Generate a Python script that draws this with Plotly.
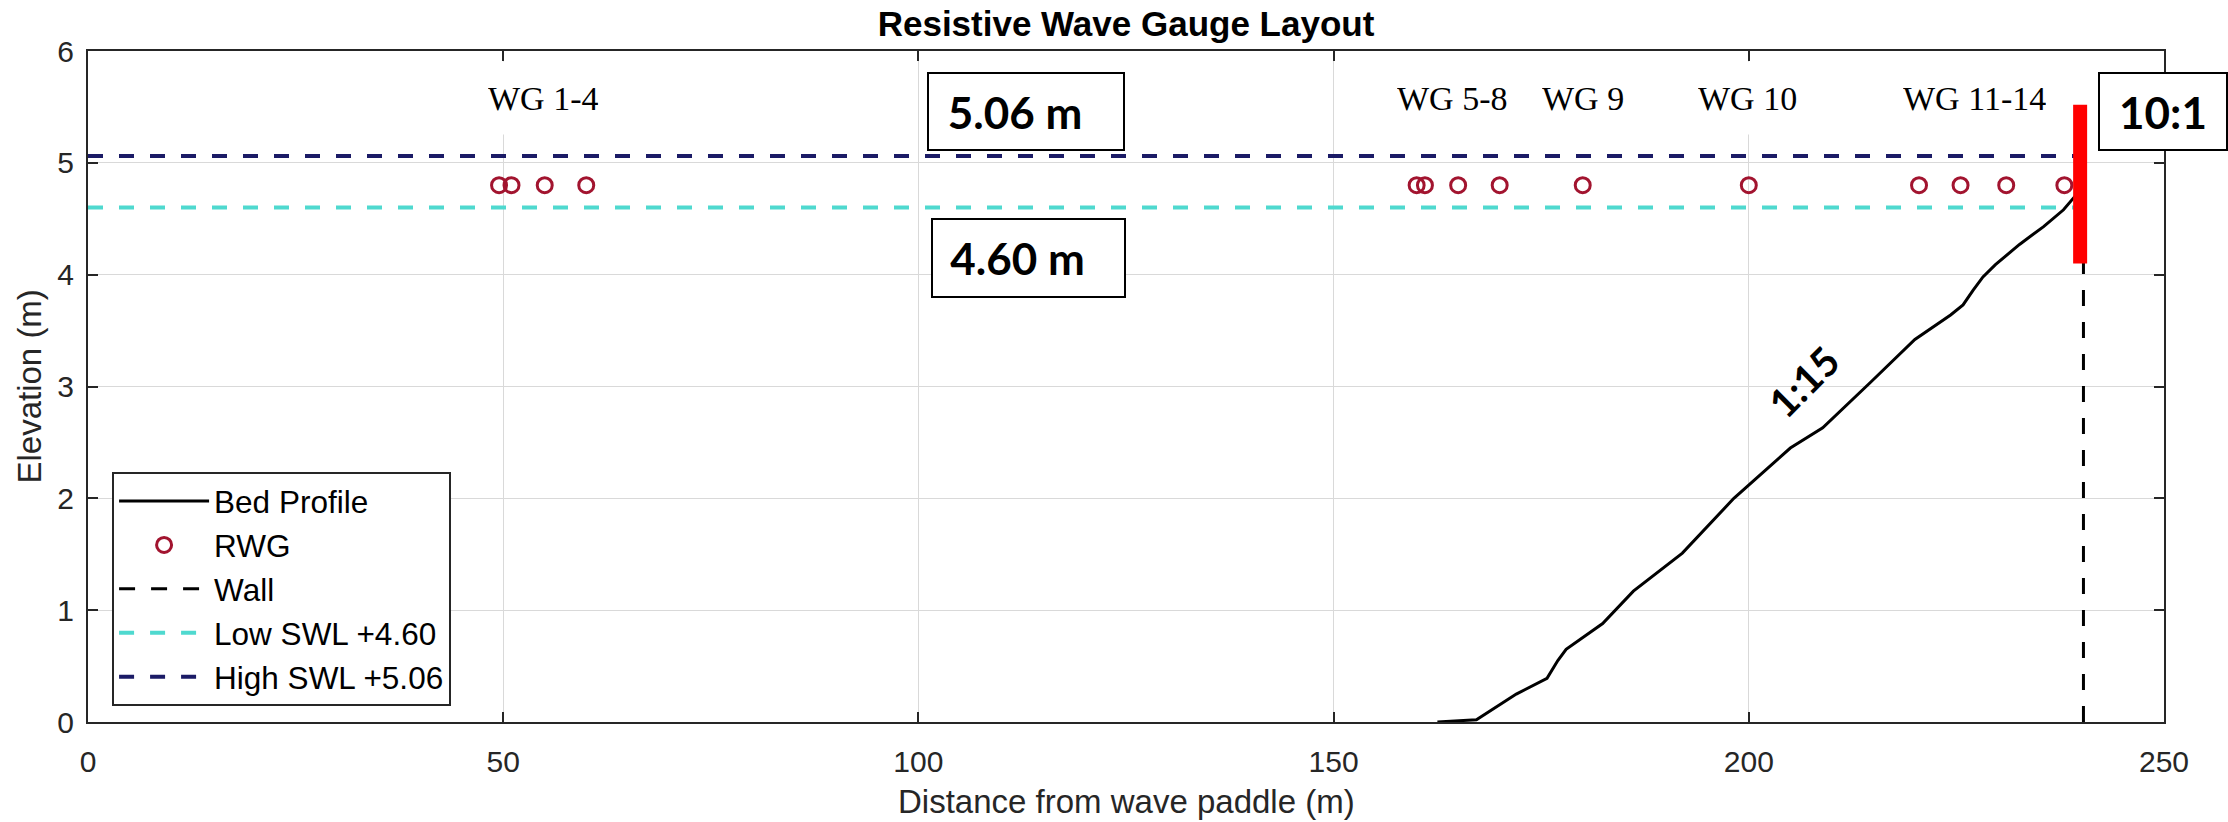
import plotly.graph_objects as go

# Bed profile (distance from paddle, elevation)
bed_x = [162.5, 167.2, 172.0, 175.7, 177.0, 178.0, 182.4, 186.1, 192.0, 198.2, 205.0,
         208.9, 214.7, 220.0, 224.3, 225.8, 227.0, 228.2, 229.7, 232.6, 235.5, 237.9, 239.5]
bed_y = [0.0, 0.02, 0.25, 0.39, 0.55, 0.65, 0.88, 1.17, 1.51, 2.00, 2.45,
         2.63, 3.04, 3.42, 3.64, 3.73, 3.86, 3.98, 4.09, 4.27, 4.43, 4.58, 4.72]

# Resistive wave gauge positions
rwg_x = [49.5, 51, 55, 60, 160, 161, 165, 170, 180, 200, 220.5, 225.5, 231, 238]
rwg_y = [4.8] * len(rwg_x)

# Wall and still water levels
wall_x = [240.3, 240.3]
wall_y = [0.0, 5.3]
swl_x = [0, 240]
low_swl = 4.60
high_swl = 5.06

# Gauge group labels
wg_labels = ["WG 1-4", "WG 5-8", "WG 9", "WG 10", "WG 11-14"]
wg_label_x = [54.8, 164.3, 180.0, 199.8, 227.2]
wg_label_y = 5.58

# Slope annotations
slope_text = "1:15"
wall_slope_text = "10:1"

SANS = "Liberation Sans, Arial, sans-serif"
SERIF = "Liberation Serif, Times New Roman, serif"
BOLD = "Lato, Open Sans, sans-serif"
INK = "#262626"

fig = go.Figure()
fig.add_trace(go.Scatter(x=bed_x, y=bed_y, mode="lines", name="Bed Profile",
                         line=dict(color="black", width=3)))
fig.add_trace(go.Scatter(x=rwg_x, y=rwg_y, mode="markers", name="RWG",
                         marker=dict(symbol="circle-open", size=15, color="#A2142F",
                                     line=dict(width=3, color="#A2142F"))))
fig.add_trace(go.Scatter(x=wall_x, y=wall_y, mode="lines", name="Wall",
                         line=dict(color="black", width=3, dash="16px,16px")))
fig.add_trace(go.Scatter(x=swl_x, y=[low_swl, low_swl], mode="lines",
                         name="Low SWL +%.2f" % low_swl,
                         line=dict(color="#4FD9CF", width=4, dash="15px,16px")))
fig.add_trace(go.Scatter(x=swl_x, y=[high_swl, high_swl], mode="lines",
                         name="High SWL +%.2f" % high_swl,
                         line=dict(color="#1b1b66", width=4, dash="15px,16px")))

# Red wall-face marker
fig.add_shape(type="line", x0=239.9, x1=239.9, y0=4.1, y1=5.52, xref="x", yref="y",
              line=dict(color="#ff0000", width=14), layer="above")

annotations = []
for t, x in zip(wg_labels, wg_label_x):
    annotations.append(dict(x=x, y=wg_label_y, xref="x", yref="y", text=t,
                            showarrow=False, xanchor="center", yanchor="middle",
                            font=dict(family=SERIF, size=34, color="black"),
                            bgcolor="white", height=70))

box_font = dict(family=BOLD, size=44, color="black")
annotations.append(dict(x=112.9, y=5.46, xref="x", yref="y",
                        text="<b>%.2f m</b>\u2002" % high_swl,
                        showarrow=False, xanchor="center", yanchor="middle",
                        font=box_font, bgcolor="white", bordercolor="black",
                        borderwidth=2, borderpad=0, width=194, height=75))
annotations.append(dict(x=113.2, y=4.15, xref="x", yref="y",
                        text="<b>%.2f m</b>\u2002" % low_swl,
                        showarrow=False, xanchor="center", yanchor="middle",
                        font=box_font, bgcolor="white", bordercolor="black",
                        borderwidth=2, borderpad=0, width=191, height=76))
annotations.append(dict(x=249.9, y=5.46, xref="x", yref="y",
                        text="<b>%s</b>" % wall_slope_text,
                        showarrow=False, xanchor="center", yanchor="middle",
                        font=box_font, bgcolor="white", bordercolor="black",
                        borderwidth=2, borderpad=0, width=126, height=75))
annotations.append(dict(x=206.6, y=3.04, xref="x", yref="y",
                        text="<b>%s</b>" % slope_text,
                        showarrow=False, textangle=-45, xanchor="center", yanchor="middle",
                        font=dict(family=BOLD, size=40, color="black")))

# Axis titles
annotations.append(dict(x=0.5, y=-0.149, xref="paper", yref="paper",
                        text="Distance from wave paddle (m)", showarrow=False,
                        xanchor="center", yanchor="bottom",
                        font=dict(family=SANS, size=33, color=INK)))
annotations.append(dict(x=-0.0284, y=0.5, xref="paper", yref="paper",
                        text="Elevation (m)", showarrow=False, textangle=-90,
                        xanchor="center", yanchor="middle",
                        font=dict(family=SANS, size=33, color=INK)))

axis_common = dict(ticks="inside", ticklen=10, tickwidth=2, tickcolor=INK,
                   showline=True, linecolor=INK, linewidth=2, mirror="ticks",
                   showgrid=True, gridcolor="#d9d9d9", gridwidth=1, zeroline=False,
                   tickfont=dict(family=SANS, size=30, color=INK))

fig.update_xaxes(range=[0, 250], tickvals=[0, 50, 100, 150, 200, 250],
                 ticklabelstandoff=12, **axis_common)
fig.update_yaxes(range=[0, 6], tickvals=[0, 1, 2, 3, 4, 5, 6],
                 ticklabelstandoff=6, **axis_common)

fig.update_layout(
    width=2228, height=822, autosize=False,
    margin=dict(l=88, r=64, t=51, b=100),
    paper_bgcolor="white", plot_bgcolor="white",
    title=dict(text="<b>Resistive Wave Gauge Layout</b>", x=0.5, xref="paper",
               y=1 - 24 / 822, yref="container", yanchor="middle", xanchor="center",
               font=dict(family=SANS, size=35, color="black")),
    legend=dict(x=0.0116, y=0.3726, xanchor="left", yanchor="top",
                bgcolor="white", bordercolor=INK, borderwidth=2,
                font=dict(family=SANS, size=31.5, color="black"),
                itemwidth=90, tracegroupgap=0),
    annotations=annotations,
    showlegend=True,
)

fig.write_html("out.html")
